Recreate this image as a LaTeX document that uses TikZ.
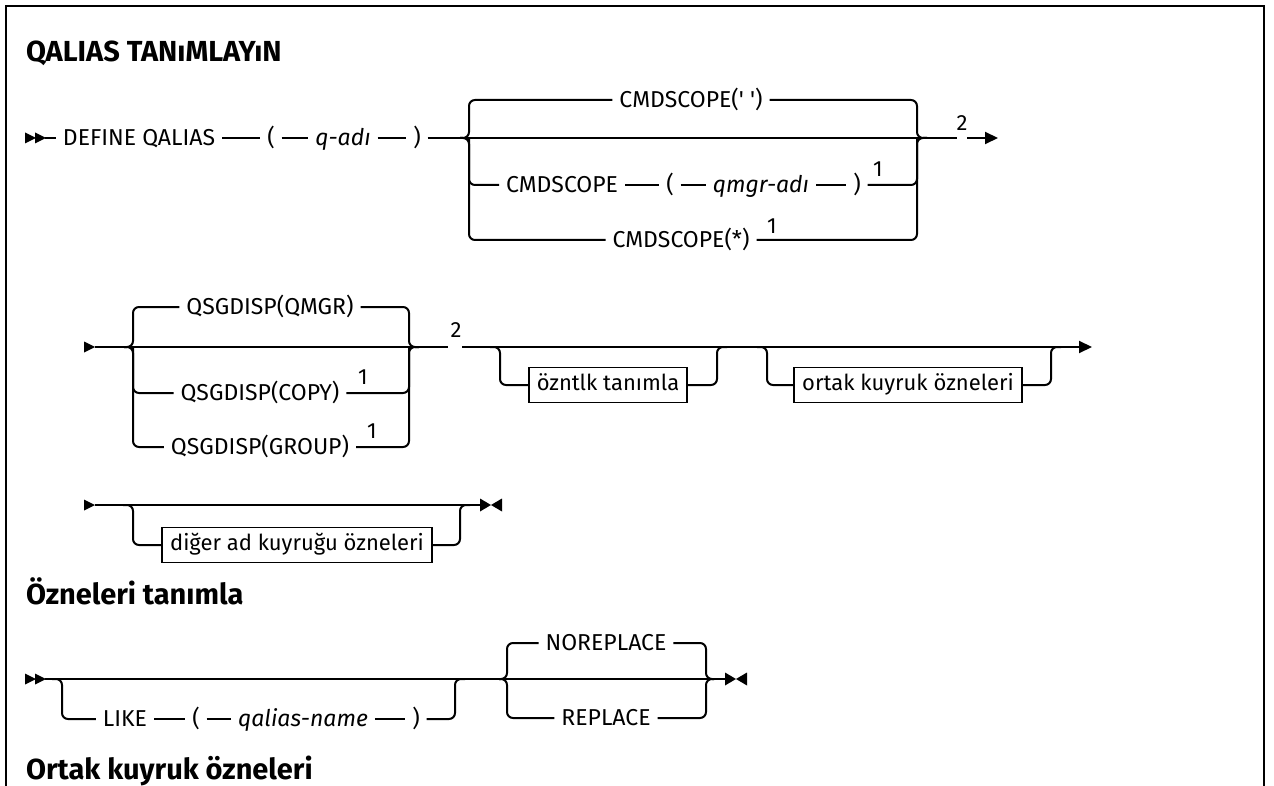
\documentclass[tikz,border=0pt]{standalone}
\usepackage{fontspec}
\setmainfont{Fira Sans}
\usetikzlibrary{arrows.meta,calc}

\begin{document}
\begin{tikzpicture}[x=1pt,y=-1pt,line width=2pt,
  tok/.style={inner xsep=6pt,inner ysep=0pt,text height=15.8pt,text depth=0pt,font=\fontsize{23}{27}\selectfont},
  vartok/.style={tok,font=\fontsize{23}{27}\selectfont\itshape},
  fnote/.style={inner sep=0pt,font=\fontsize{22}{26}\selectfont},
  nbox/.style={draw,line width=1.6pt,inner xsep=8pt,inner ysep=8pt,text height=15pt,text depth=4pt,font=\fontsize{22}{26}\selectfont},
  ttl/.style={anchor=base west,inner sep=0pt,font=\fontsize{29}{33}\selectfont\bfseries},
  railbend/.style={rounded corners=6pt},
  endtip/.style={-{Triangle[length=13pt,width=12pt]}}]
  \useasboundingbox (0,0) rectangle (1274,786);
  % frame, open at the bottom
  \draw (6,800) -- (6,6) -- (1264,6) -- (1264,800);
  \node[ttl] (t1) at (25,61.5) {QALIAS TANıMLAYıN};
  \node[ttl] (t2) at (25,604) {Özneleri tanımla};
  \node[ttl] (t3) at (25,779) {Ortak kuyruk özneleri};
  % start and end marks
  \foreach \x/\y in {25/138,35/138,25/679,35/679,84/347,84/505}
    \fill ({\x},{\y-5.5}) -- ({\x+11},{\y}) -- ({\x},{\y+5.5}) -- cycle;
  \foreach \x/\y in {491/505,736/679} {
    \fill ({\x-11},{\y-6.5}) -- ({\x},{\y}) -- ({\x-11},{\y+6.5}) -- cycle;
    \fill ({\x+11},{\y-6.5}) -- ({\x},{\y}) -- ({\x+11},{\y+6.5}) -- cycle;
  }

  % DEFINE QALIAS ( q-adi ) with CMDSCOPE choice
  \coordinate (s1) at (45,138);
  \node[tok] (def) at (139,138) {DEFINE QALIAS};
  \node[tok] (lp1) at (271,138) {(};
  \node[vartok] (qadi) at (343,138) {q-adı};
  \node[tok] (rp1) at (417,138) {)};
  \coordinate (bl1) at (469,138);
  \coordinate (br1) at (917,138);
  \coordinate (g1) at (957,138);
  \coordinate (g1e) at (967,138);
  \coordinate (e1) at (998,138);
  \node[tok] (cs0) at (691,100) {CMDSCOPE(\textquotesingle{} \textquotesingle)};
  \node[tok] (cs1) at (562,185) {CMDSCOPE};
  \node[tok] (lp2) at (670,185) {(};
  \node[vartok] (qmgr) at (761,185) {qmgr-adı};
  \node[tok] (rp2) at (857,185) {)};
  \node[tok] (cs2) at (681,240) {CMDSCOPE(*)};
  \node[fnote] (n1a) at (878,169) {1};
  \node[fnote] (n1b) at (772,226) {1};
  \node[fnote] (n2a) at (962,123) {2};
  \draw (s1) -- (def) -- (lp1) -- (qadi) -- (rp1) -- (g1);
  \draw[endtip] (g1e) -- (e1);
  \draw (cs1) -- (lp2) -- (qmgr) -- (rp2);
  \draw[railbend] (cs0.west) -| (bl1) -- ++(-9,0);
  \draw[railbend] (cs2.west) -| (bl1) -- ++(-9,0);
  \draw[railbend] (cs1.west) -| (bl1);
  \draw[railbend] (cs0.east) -| (br1) -- ++(10,0);
  \draw[railbend] (cs2.east) -| (br1) -- ++(10,0);
  \draw[railbend] (rp2.east) -| (br1);

  % QSGDISP choice and optional blocks
  \coordinate (s2) at (95,347);
  \node[tok] (qs0) at (270,307) {QSGDISP(QMGR)};
  \node[tok] (qs1) at (260,393) {QSGDISP(COPY)};
  \node[tok] (qs2) at (260,447) {QSGDISP(GROUP)};
  \node[fnote] (n1c) at (363,377) {1};
  \node[fnote] (n1d) at (372,431) {1};
  \coordinate (bl2) at (133,347);
  \coordinate (br2) at (409,347);
  \coordinate (g2) at (448,347);
  \node[fnote] (n2b) at (456,330) {2};
  \coordinate (g2e) at (462,347);
  \coordinate (o1a) at (500,347);
  \node[nbox] (ozn) at (608,385) {özntlk tanımla};
  \coordinate (o1b) at (717,347);
  \coordinate (o2a) at (767,347);
  \node[nbox] (ort) at (908,385) {ortak kuyruk özneleri};
  \coordinate (o2b) at (1051,347);
  \coordinate (e2) at (1092,347);
  \draw (s2) -- (g2);
  \draw[endtip] (g2e) -- (e2);
  \draw[railbend] (qs0.west) -| (bl2) -- ++(-9,0);
  \draw[railbend] (qs2.west) -| (bl2) -- ++(-9,0);
  \draw[railbend] (qs1.west) -| (bl2);
  \draw[railbend] (qs0.east) -| (br2) -- ++(10,0);
  \draw[railbend] (qs2.east) -| (br2) -- ++(10,0);
  \draw[railbend] (qs1.east) -| (br2);
  \draw[railbend] (ozn.west) -| (o1a) -- ++(-10,0);
  \draw[railbend] (ozn.east) -| (o1b) -- ++(10,0);
  \draw[railbend] (ort.west) -| (o2a) -- ++(-10,0);
  \draw[railbend] (ort.east) -| (o2b) -- ++(10,0);

  % other alias queue attributes
  \coordinate (s3) at (95,505);
  \coordinate (o3a) at (133,505);
  \node[nbox] (dig) at (297,545) {diğer ad kuyruğu özneleri};
  \coordinate (o3b) at (460,505);
  \coordinate (e3) at (485,505);
  \draw (s3) -- (e3);
  \draw[railbend] (dig.west) -| (o3a) -- ++(-10,0);
  \draw[railbend] (dig.east) -| (o3b) -- ++(10,0);

  % LIKE and REPLACE
  \coordinate (s4) at (45,679);
  \coordinate (o4a) at (62,679);
  \node[tok] (like) at (125,719) {LIKE};
  \node[tok] (lp3) at (196,719) {(};
  \node[vartok] (qal) at (303,719) {qalias-name};
  \node[tok] (rp3) at (416,719) {)};
  \coordinate (o4b) at (455,679);
  \coordinate (bl4) at (507,679);
  \node[tok] (nor) at (606,643) {NOREPLACE};
  \node[tok] (rep) at (606,718) {REPLACE};
  \coordinate (br4) at (706,679);
  \coordinate (e4) at (730,679);
  \draw (s4) -- (e4);
  \draw (like) -- (lp3) -- (qal) -- (rp3);
  \draw[railbend] (like.west) -| (o4a) -- ++(-10,0);
  \draw[railbend] (rp3.east) -| (o4b) -- ++(10,0);
  \draw[railbend] (nor.west) -| (bl4) -- ++(-8,0);
  \draw[railbend] (rep.west) -| (bl4) -- ++(-8,0);
  \draw[railbend] (nor.east) -| (br4) -- ++(8,0);
  \draw[railbend] (rep.east) -| (br4) -- ++(8,0);
\end{tikzpicture}
\end{document}
